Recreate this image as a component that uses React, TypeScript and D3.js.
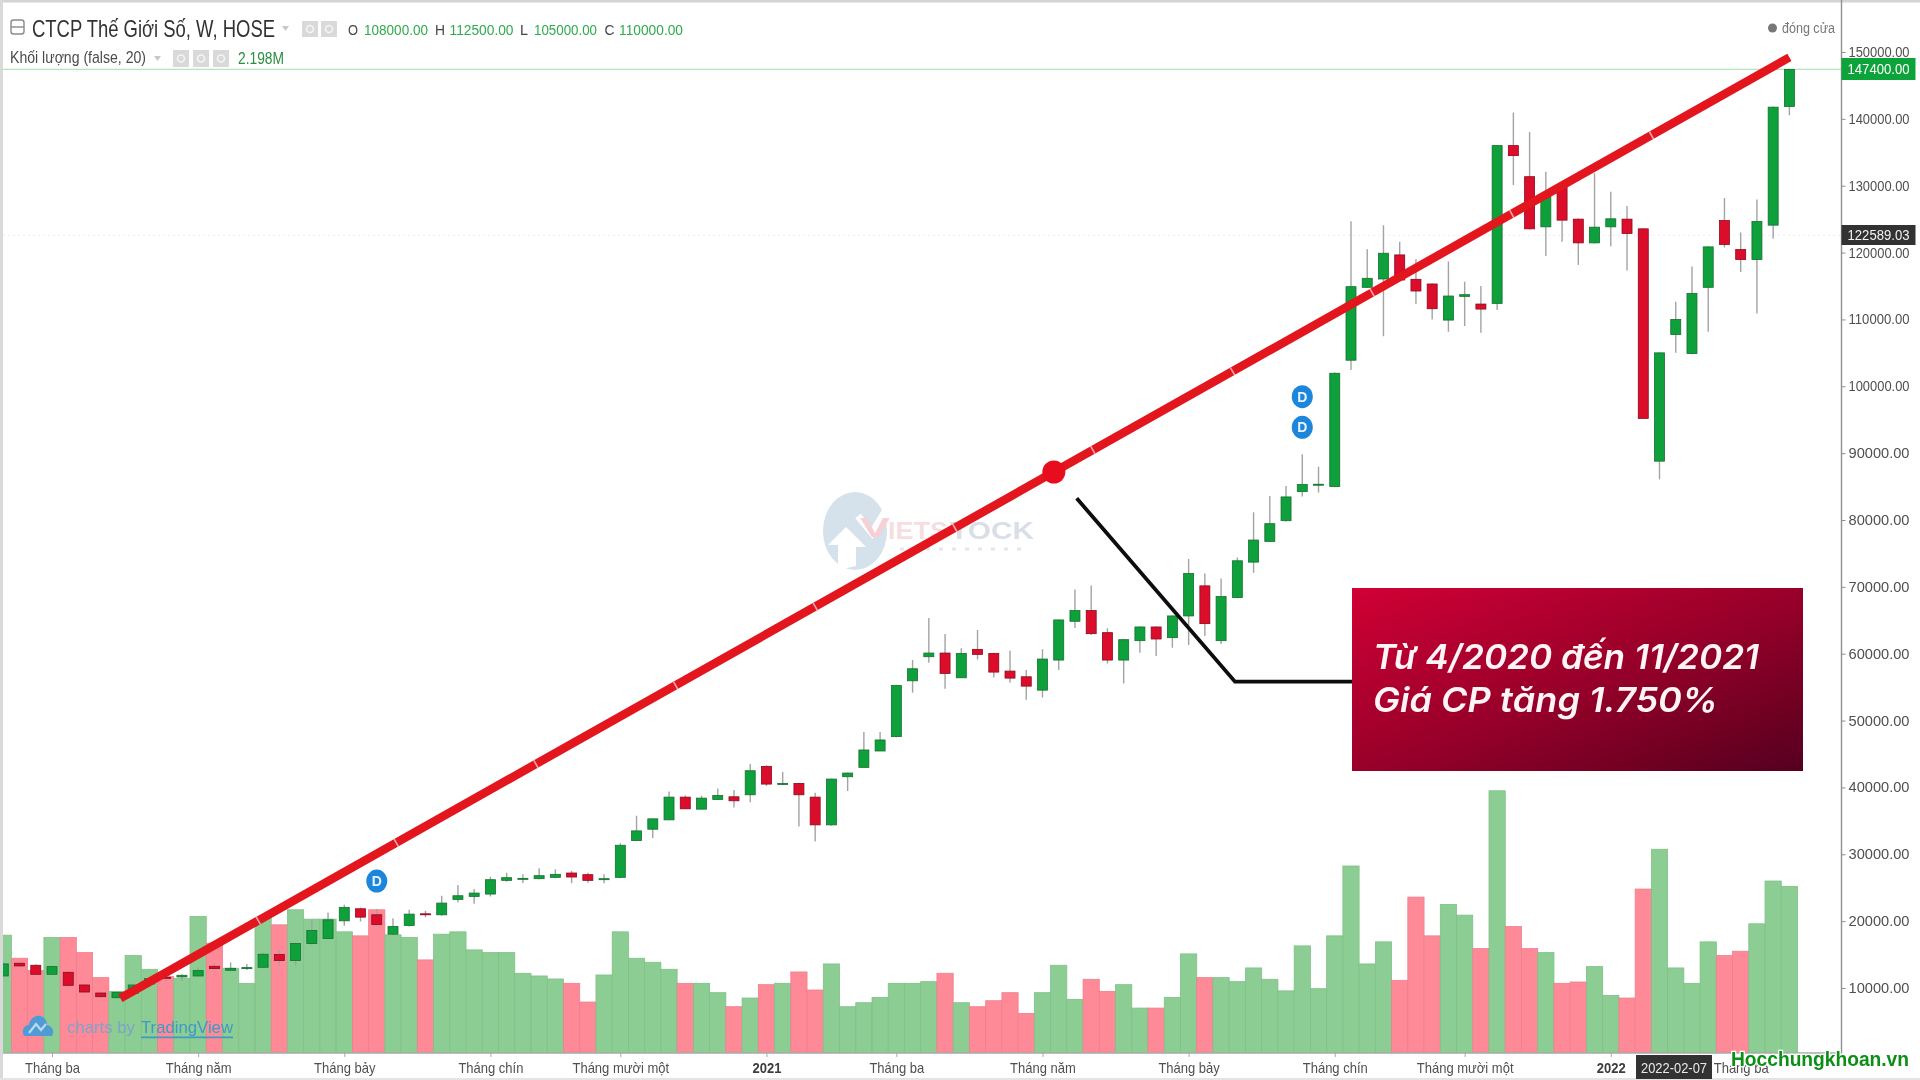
import { useEffect, useRef } from "react";
import * as d3 from "d3";

const WIDTH = 1920;
const HEIGHT = 1080;

// Weekly candles (index = bar number from the left)
const opens = [
  11800, 13700, 13400, 12050, 12350, 10450, 9250, 8550, 9200, 10600,
  11600, 11650, 11800, 13250, 12650, 12950, 13100, 15000, 14100, 16650,
  17400, 20050, 21850, 20950, 18050, 19350, 21100, 20950, 23250, 23700,
  24050, 26100, 26300, 26350, 26550, 27200, 26950, 26250, 26550, 32050,
  33750, 35150, 38550, 36750, 38200, 38600, 38900, 43150, 40500, 40600,
  38550, 34400, 41600, 43000, 45450, 47600, 55950, 59550, 60100, 56400,
  60650, 60050, 57400, 56550, 54550, 59050, 64850, 66450, 63150, 59050,
  61950, 64000, 62400, 65650, 70150, 61950, 68400, 73700, 76800, 79900,
  84250, 85200, 85000, 103900, 114800, 116050, 119650, 116000, 115300, 109900,
  113450, 112300, 112400, 136000, 131350, 123850, 129850, 125000, 121450, 123850,
  125000, 123550, 88800, 107750, 104900, 114800, 124800, 120450, 118950, 124100, 141850,
];
const closes = [
  13600, 13300, 12050, 13200, 10400, 9400, 8700, 9350, 10450, 11400,
  11450, 11900, 12600, 12900, 12950, 13050, 15050, 14100, 16650, 18600,
  20200, 22050, 20600, 19500, 19200, 21050, 21000, 22700, 23800, 24200,
  26200, 26500, 26400, 26800, 27000, 26600, 26100, 26350, 31350, 33500,
  35300, 38550, 36800, 38400, 38800, 38000, 42500, 40500, 40600, 38900,
  34400, 41250, 42150, 45600, 47100, 55250, 57750, 60100, 57050, 60050,
  59900, 57250, 56350, 55150, 59200, 65050, 66450, 63000, 59050, 62100,
  64000, 62200, 65650, 72000, 64500, 68550, 73900, 77000, 79450, 83450,
  85300, 85350, 101950, 114900, 116150, 119900, 115900, 114250, 111600, 113500,
  113700, 111550, 136000, 134500, 123550, 128350, 124850, 121450, 123800, 125050,
  122850, 95200, 105000, 110000, 113900, 120850, 121200, 118950, 124650, 141750, 147400,
];
const highs = [
  13950, 13900, 13550, 13400, 12550, 10600, 9400, 9550, 10700, 11700,
  12100, 12050, 13100, 13700, 13800, 13600, 15300, 15700, 16800, 20200,
  21300, 22450, 22050, 21800, 20450, 21700, 21550, 23800, 25400, 24800,
  26650, 27250, 27000, 27900, 27750, 27500, 27250, 27000, 31650, 35750,
  35300, 39400, 38800, 38750, 39850, 39600, 43500, 43300, 42300, 40700,
  39200, 41350, 42250, 48300, 48300, 55350, 59050, 65350, 62950, 60800,
  63550, 60150, 60450, 57550, 60650, 65150, 69600, 70200, 63800, 62200,
  64100, 64100, 65750, 74150, 72000, 71250, 74400, 81150, 83600, 85100,
  89850, 87950, 102050, 124700, 120500, 124100, 121600, 119000, 115400, 118650,
  115650, 115000, 136100, 140950, 138050, 132100, 129950, 125100, 131850, 129100,
  126950, 123650, 105100, 112650, 117900, 120950, 128150, 123000, 127950, 141850, 147500,
];
const lows = [
  11700, 13100, 11950, 11900, 10200, 9250, 8550, 8400, 8950, 10200,
  11000, 11000, 11700, 12700, 12500, 12700, 12900, 13400, 13400, 16450,
  17300, 19300, 19950, 19350, 17900, 19200, 20600, 20800, 22800, 22600,
  23700, 25900, 25700, 26250, 26400, 25650, 25750, 25650, 26400, 32050,
  32450, 35150, 36800, 36750, 38200, 37000, 37800, 40200, 40400, 34150,
  31900, 34250, 39450, 43000, 45450, 47500, 54150, 58650, 54750, 56400,
  59150, 56450, 55650, 53100, 53450, 57550, 63850, 62800, 58550, 55550,
  60150, 59650, 60900, 61300, 62650, 61450, 68300, 72100, 76700, 79750,
  83500, 84100, 84900, 102450, 114700, 107500, 115800, 112300, 110000, 108150,
  109000, 108000, 111400, 130100, 123450, 119500, 121600, 118150, 121350, 120950,
  117300, 95100, 86100, 105000, 104800, 108150, 120750, 117100, 110900, 122100, 140550,
];
// Volume bars share the price axis on the picture, so they are read in its units
const volumes = [
  17900, 14450, 12600, 17550, 17550, 15300, 11550, 9500, 14850, 12800,
  11700, 11450, 20700, 16700, 12950, 10700, 20450, 19450, 21700, 20300,
  20300, 18400, 17800, 21700, 17950, 17550, 14200, 18050, 18400, 15700,
  15300, 15300, 12200, 11800, 11350, 10700, 7900, 11950, 18400, 14450,
  13850, 12800, 10700, 10700, 9300, 7200, 8500, 10500, 10700, 12400,
  9700, 13600, 7200, 7800, 8600, 10700, 10700, 10950, 12200, 7800,
  7200, 8100, 9300, 6200, 9300, 13400, 8300, 11300, 9500, 10500,
  7000, 7000, 8600, 15100, 11550, 11550, 10950, 13000, 11300, 9570,
  16300, 9900, 17800, 28250, 13600, 16900, 11150, 23600, 17800, 22500,
  20900, 15900, 39500, 19200, 15900, 15300, 10700, 10900, 13200, 8900,
  8500, 24800, 30750, 13000, 10700, 16900, 14850, 15500, 19600, 26000, 25200,
];

const priceTicks = [
  150000, 140000, 130000, 120000, 110000, 100000, 90000, 80000, 70000, 60000,
  50000, 40000, 30000, 20000, 10000,
];
const timeTickBars = [3, 12, 21, 30, 38, 47, 55, 64, 73, 82, 90, 99, 107];
const timeTickLabels = [
  "Tháng ba", "Tháng năm", "Tháng bảy", "Tháng chín", "Tháng mười một", "2021",
  "Tháng ba", "Tháng năm", "Tháng bảy", "Tháng chín", "Tháng mười một", "2022",
  "Tháng ba",
];
const dividendBars = [23, 80, 80];
const dividendPrices = [26000, 98450, 93870];

const trendBars = [7.21, 110];
const trendPrices = [8470, 149200];
const trendMidBar = 64.7;
const trendNotchBars = [15.7, 24.2, 32.8, 41.4, 50, 58.6, 67.1, 75.7, 84.3, 92.9, 101.5];

const LAST_PRICE = 147400;
const CLOSE_PRICE = 122589.03;

const COLOR_UP = "#0ea03a";
const COLOR_UP_EDGE = "#15702f";
const COLOR_DOWN = "#dc0a2a";
const COLOR_DOWN_EDGE = "#8c0a20";
const COLOR_VOL_UP = "#8ccd93";
const COLOR_VOL_UP_EDGE = "#80c088";
const COLOR_VOL_DOWN = "#ff8a97";
const COLOR_VOL_DOWN_EDGE = "#ee7f8c";
const COLOR_LABEL = "#505050";
const COLOR_GREEN_TEXT = "#2fab4c";
const COLOR_TREND = "#e2141f";
const FONT = "'Liberation Sans', Arial, sans-serif";

const PLOT_RIGHT = 1841.5;
const PLOT_BOTTOM = 1053;

export default function App() {
  const svgRef = useRef<SVGSVGElement>(null);

  useEffect(() => {
    const svg = d3.select(svgRef.current);
    svg.selectAll("*").remove();
    svg.attr("viewBox", `0 0 ${WIDTH} ${HEIGHT}`);

    const x = d3.scaleLinear().domain([0, 110]).range([3.3, 1789.4]);
    const y = d3.scaleLinear().domain([10000, 150000]).range([988, 52]);
    const barWidth = x(1) - x(0);
    const isUp = (i: number) => closes[i] >= opens[i];
    const bars = d3.range(volumes.length);

    const defs = svg.append("defs");
    defs
      .append("clipPath")
      .attr("id", "plot-clip")
      .append("rect")
      .attr("x", 3)
      .attr("y", 0)
      .attr("width", PLOT_RIGHT - 3)
      .attr("height", PLOT_BOTTOM);
    defs
      .append("filter")
      .attr("id", "soft")
      .attr("x", 0)
      .attr("y", 0)
      .attr("width", 1)
      .attr("height", 1)
      .append("feGaussianBlur")
      .attr("stdDeviation", 0.55);
    const grad = defs
      .append("linearGradient")
      .attr("id", "callout-fill")
      .attr("x1", 0)
      .attr("y1", 0)
      .attr("x2", 1)
      .attr("y2", 1);
    grad.append("stop").attr("offset", "0%").attr("stop-color", "#d10035");
    grad.append("stop").attr("offset", "55%").attr("stop-color", "#930029");
    grad.append("stop").attr("offset", "100%").attr("stop-color", "#55001f");

    const root = svg.append("g").attr("filter", "url(#soft)");
    root.append("rect").attr("width", WIDTH).attr("height", HEIGHT).attr("fill", "#ffffff");

    // video frame edges
    root.append("rect").attr("width", WIDTH).attr("height", 2.5).attr("fill", "#d4d4d4");
    root.append("rect").attr("width", 3).attr("height", HEIGHT).attr("fill", "#d9d9d9");
    root.append("rect").attr("y", 1078).attr("width", WIDTH).attr("height", 2).attr("fill", "#e4e4e4");

    const text = (
      parent: d3.Selection<any, any, any, any>,
      tx: number,
      ty: number,
      str: string,
      size: number,
      fill: string,
      fitWidth?: number,
    ) => {
      const t = parent
        .append("text")
        .attr("x", tx)
        .attr("y", ty)
        .attr("font-family", FONT)
        .attr("font-size", size)
        .attr("fill", fill)
        .attr("dominant-baseline", "central")
        .text(str);
      if (fitWidth) t.attr("textLength", fitWidth).attr("lengthAdjust", "spacingAndGlyphs");
      return t;
    };

    // Watermark
    const wm = root.append("g");
    wm.append("ellipse")
      .attr("cx", 855)
      .attr("cy", 531)
      .attr("rx", 32)
      .attr("ry", 39)
      .attr("fill", "#d5e1eb");
    wm.append("path")
      .attr("d", "M838 570 L838 545 L828 545 L846 527 L866 547 L856 547 L856 566 Z")
      .attr("fill", "#ffffff");
    wm.append("path")
      .attr("d", "M858 516 L872 533 L886 510")
      .attr("fill", "none")
      .attr("stroke", "#ffffff")
      .attr("stroke-width", 7);
    text(wm, 860, 528, "V", 27, "#f6d0d5", 30).attr("font-weight", 700);
    text(wm, 888, 530, "IETS", 24, "#f6dde1", 60).attr("font-weight", 700);
    text(wm, 950, 530, "TOCK", 24, "#d9dfe6", 84).attr("font-weight", 700);
    wm.append("line")
      .attr("x1", 900)
      .attr("x2", 1030)
      .attr("y1", 549)
      .attr("y2", 549)
      .attr("stroke", "#e4e8ed")
      .attr("stroke-width", 3)
      .attr("stroke-dasharray", "4,9");

    // Last price and pale close line
    root
      .append("line")
      .attr("x1", 3)
      .attr("x2", PLOT_RIGHT)
      .attr("y1", y(LAST_PRICE))
      .attr("y2", y(LAST_PRICE))
      .attr("stroke", "#b5e3ba")
      .attr("stroke-width", 1.2);
    root
      .append("line")
      .attr("x1", 3)
      .attr("x2", PLOT_RIGHT)
      .attr("y1", y(CLOSE_PRICE))
      .attr("y2", y(CLOSE_PRICE))
      .attr("stroke", "#eeeeee")
      .attr("stroke-width", 1)
      .attr("stroke-dasharray", "2,3");

    const plot = root.append("g").attr("clip-path", "url(#plot-clip)");

    // Volume
    plot
      .append("g")
      .selectAll("rect")
      .data(bars)
      .join("rect")
      .attr("x", (i) => x(i) - barWidth / 2)
      .attr("y", (i) => y(volumes[i]))
      .attr("width", barWidth)
      .attr("height", (i) => y(0) - y(volumes[i]))
      .attr("fill", (i) => (isUp(i) ? COLOR_VOL_UP : COLOR_VOL_DOWN))
      .attr("stroke", (i) => (isUp(i) ? COLOR_VOL_UP_EDGE : COLOR_VOL_DOWN_EDGE))
      .attr("stroke-width", 0.8);

    // TradingView credit
    const credit = plot.append("g");
    credit
      .append("path")
      .attr(
        "d",
        "M24 1036 C21 1030 24 1025 29 1025 C30 1018 36 1015 40 1016 C45 1017 47 1021 47 1025 C52 1026 55 1031 52 1036 Z",
      )
      .attr("fill", "#4f9bd6");
    credit
      .append("path")
      .attr("d", "M29 1033 L36 1024 L41 1030 L46 1024")
      .attr("fill", "none")
      .attr("stroke", "#b9d9f0")
      .attr("stroke-width", 2.2);
    text(credit, 67, 1027, "charts by", 17, "#7da3cc", 68);
    text(credit, 141, 1027, "TradingView", 17, "#3e9ac6", 92).attr("text-decoration", "underline");

    // Candles
    const candles = plot.append("g");
    candles
      .selectAll("line")
      .data(bars)
      .join("line")
      .attr("x1", (i) => x(i))
      .attr("x2", (i) => x(i))
      .attr("y1", (i) => y(highs[i]))
      .attr("y2", (i) => y(lows[i]))
      .attr("stroke", "#a3a3a3")
      .attr("stroke-width", 1.4);
    candles
      .selectAll("rect")
      .data(bars)
      .join("rect")
      .attr("x", (i) => x(i) - 5)
      .attr("y", (i) => y(Math.max(opens[i], closes[i])))
      .attr("width", 10)
      .attr("height", (i) => Math.max(1, Math.abs(y(opens[i]) - y(closes[i]))))
      .attr("fill", (i) => (isUp(i) ? COLOR_UP : COLOR_DOWN))
      .attr("stroke", (i) => (isUp(i) ? COLOR_UP_EDGE : COLOR_DOWN_EDGE))
      .attr("stroke-width", 0.8);

    // Dividend markers
    const divs = root
      .append("g")
      .selectAll("g")
      .data(dividendBars.map((bar, i) => ({ bar, price: dividendPrices[i] })))
      .join("g")
      .attr("transform", (d) => `translate(${x(d.bar)},${y(d.price)})`);
    divs.append("ellipse").attr("rx", 10.5).attr("ry", 11.5).attr("fill", "#1d85dc");
    divs
      .append("text")
      .attr("text-anchor", "middle")
      .attr("dominant-baseline", "central")
      .attr("font-family", FONT)
      .attr("font-size", 14)
      .attr("font-weight", 700)
      .attr("fill", "#e8f3fc")
      .text("D");

    // Price axis
    root
      .append("line")
      .attr("x1", PLOT_RIGHT)
      .attr("x2", PLOT_RIGHT)
      .attr("y1", 0)
      .attr("y2", PLOT_BOTTOM)
      .attr("stroke", "#8f8f8f")
      .attr("stroke-width", 1.4);
    const priceAxis = root
      .append("g")
      .attr("transform", `translate(${PLOT_RIGHT},0)`)
      .call(
        d3
          .axisRight(y)
          .tickValues(priceTicks)
          .tickSize(4)
          .tickPadding(3)
          .tickFormat((v) => (v as number).toFixed(2)),
      );
    priceAxis.select(".domain").remove();
    priceAxis.selectAll(".tick line").attr("stroke", "#8f8f8f");
    priceAxis
      .selectAll(".tick text")
      .attr("font-family", FONT)
      .attr("font-size", 14)
      .attr("fill", COLOR_LABEL)
      .attr("textLength", 61)
      .attr("lengthAdjust", "spacingAndGlyphs");

    // Time axis
    root
      .append("line")
      .attr("x1", 3)
      .attr("x2", PLOT_RIGHT)
      .attr("y1", PLOT_BOTTOM)
      .attr("y2", PLOT_BOTTOM)
      .attr("stroke", "#a8a8a8")
      .attr("stroke-width", 1.4);
    const timeAxis = root
      .append("g")
      .attr("transform", `translate(0,${PLOT_BOTTOM})`)
      .call(
        d3
          .axisBottom(x)
          .tickValues(timeTickBars)
          .tickSize(4)
          .tickPadding(6)
          .tickFormat((_, i) => timeTickLabels[i]),
      );
    timeAxis.select(".domain").remove();
    timeAxis.selectAll(".tick line").attr("stroke", "#a8a8a8");
    timeAxis
      .selectAll<SVGTextElement, number>(".tick text")
      .attr("font-family", FONT)
      .attr("font-size", 13)
      .attr("fill", (_, i) => (/^\d/.test(timeTickLabels[i]) ? "#3c3c3c" : COLOR_LABEL))
      .attr("font-weight", (_, i) => (/^\d/.test(timeTickLabels[i]) ? 700 : 400))
      .each(function () {
        // keep the 13px width but the taller letters of the picture
        const natural = this.getComputedTextLength();
        d3.select(this)
          .attr("font-size", 14.5)
          .attr("textLength", natural)
          .attr("lengthAdjust", "spacingAndGlyphs");
      });

    // Price tags
    root
      .append("rect")
      .attr("x", PLOT_RIGHT)
      .attr("y", 58)
      .attr("width", 74)
      .attr("height", 22)
      .attr("fill", "#0fa33a");
    text(root, PLOT_RIGHT + 6, 69, LAST_PRICE.toFixed(2), 14, "#ffffff", 62);
    root
      .append("rect")
      .attr("x", PLOT_RIGHT)
      .attr("y", 225)
      .attr("width", 74)
      .attr("height", 20)
      .attr("fill", "#333333");
    text(root, PLOT_RIGHT + 6, 235, CLOSE_PRICE.toFixed(2), 14, "#f2f2f2", 62);

    // Crosshair date tag
    root
      .append("rect")
      .attr("x", 1636)
      .attr("y", 1055)
      .attr("width", 76)
      .attr("height", 24)
      .attr("fill", "#333333");
    text(root, 1674, 1068, "2022-02-07", 14, "#e8e8e8", 66).attr("text-anchor", "middle");

    // Header
    root
      .append("rect")
      .attr("x", 11)
      .attr("y", 20)
      .attr("width", 13)
      .attr("height", 14)
      .attr("rx", 2.5)
      .attr("fill", "none")
      .attr("stroke", "#8a8a8a")
      .attr("stroke-width", 1.4);
    root
      .append("line")
      .attr("x1", 11)
      .attr("x2", 24)
      .attr("y1", 27)
      .attr("y2", 27)
      .attr("stroke", "#8a8a8a")
      .attr("stroke-width", 1.4);
    text(root, 32, 28.5, "CTCP Thế Giới Số, W, HOSE", 24, "#333333", 243);
    root.append("path").attr("d", "M282 26 L289 26 L285.5 31 Z").attr("fill", "#c8c8c8");
    const headerIcons = (boxes: number[], boxY: number, boxH: number) => {
      boxes.forEach((bx) => {
        root
          .append("rect")
          .attr("x", bx)
          .attr("y", boxY)
          .attr("width", 16)
          .attr("height", boxH)
          .attr("fill", "#d9d9d9");
        root
          .append("circle")
          .attr("cx", bx + 8)
          .attr("cy", boxY + boxH / 2)
          .attr("r", 3.5)
          .attr("fill", "none")
          .attr("stroke", "#f5f5f5")
          .attr("stroke-width", 1.6);
      });
    };
    headerIcons([302, 321], 21, 16);
    text(root, 348, 30, "O", 14.5, "#444444", 10);
    text(root, 364, 30, "108000.00", 14.5, COLOR_GREEN_TEXT, 64);
    text(root, 435, 30, "H", 14.5, "#444444", 10);
    text(root, 449.5, 30, "112500.00", 14.5, COLOR_GREEN_TEXT, 64);
    text(root, 520, 30, "L", 14.5, "#444444", 8);
    text(root, 534, 30, "105000.00", 14.5, COLOR_GREEN_TEXT, 63);
    text(root, 604.5, 30, "C", 14.5, "#444444", 10);
    text(root, 619, 30, "110000.00", 14.5, COLOR_GREEN_TEXT, 64);

    text(root, 10, 57.5, "Khối lượng (false, 20)", 17, "#4c4c4c", 136);
    root.append("path").attr("d", "M154 56 L161 56 L157.5 61 Z").attr("fill", "#c8c8c8");
    headerIcons([173, 193, 213], 50, 17);
    text(root, 238, 58, "2.198M", 16, "#2a8f42", 46);

    root.append("circle").attr("cx", 1772.5).attr("cy", 28).attr("r", 4.5).attr("fill", "#777777");
    text(root, 1782, 28, "đóng cửa", 14, "#777777", 53);

    // Trend line over everything on the chart
    const trend = d3
      .line<number>()
      .x((i) => x(trendBars[i]))
      .y((i) => y(trendPrices[i]));
    const trendAt = d3.scaleLinear().domain(trendBars).range(trendPrices);
    const dx = x(trendBars[1]) - x(trendBars[0]);
    const dy = y(trendPrices[1]) - y(trendPrices[0]);
    const len = Math.hypot(dx, dy);
    const nx = -dy / len;
    const ny = dx / len;

    root
      .append("path")
      .attr("d", trend([0, 1]))
      .attr("fill", "none")
      .attr("stroke", COLOR_TREND)
      .attr("stroke-width", 8.5);
    root
      .append("g")
      .selectAll("line")
      .data(trendNotchBars)
      .join("line")
      .attr("x1", (b) => x(b) - nx * 4.5)
      .attr("y1", (b) => y(trendAt(b)) - ny * 4.5)
      .attr("x2", (b) => x(b) + nx * 4.5)
      .attr("y2", (b) => y(trendAt(b)) + ny * 4.5)
      .attr("stroke", "#f6a9ad")
      .attr("stroke-width", 1.6);
    root
      .append("circle")
      .attr("cx", x(trendMidBar))
      .attr("cy", y(trendAt(trendMidBar)))
      .attr("r", 11.5)
      .attr("fill", "#e80f1e");

    // Callout
    root
      .append("path")
      .attr("d", "M1076.7 498.3 L1235 681.7 L1352 681.7")
      .attr("fill", "none")
      .attr("stroke", "#0c0c0c")
      .attr("stroke-width", 3.8);
    root
      .append("rect")
      .attr("x", 1352)
      .attr("y", 588)
      .attr("width", 451)
      .attr("height", 183)
      .attr("fill", "url(#callout-fill)");
    const callout = (cy: number, str: string, w: number) =>
      root
        .append("text")
        .attr("x", 1373)
        .attr("y", cy)
        .attr("font-family", "Inter, 'Open Sans', sans-serif")
        .attr("font-size", 34)
        .attr("font-weight", 600)
        .attr("font-style", "italic")
        .attr("fill", "#fff4f6")
        .attr("textLength", w)
        .attr("lengthAdjust", "spacingAndGlyphs")
        .text(str);
    callout(669, "Từ 4/2020 đến 11/2021", 386);
    callout(712, "Giá CP tăng 1.750%", 345);

    // Site stamp
    root
      .append("text")
      .attr("x", 1731)
      .attr("y", 1066)
      .attr("font-family", FONT)
      .attr("font-size", 20)
      .attr("font-weight", 700)
      .attr("fill", "#0b8f17")
      .attr("stroke", "#ffffff")
      .attr("stroke-width", 2.5)
      .attr("paint-order", "stroke")
      .attr("textLength", 178)
      .attr("lengthAdjust", "spacingAndGlyphs")
      .text("Hocchungkhoan.vn");
  }, []);

  return (
    <svg
      ref={svgRef}
      width={WIDTH}
      height={HEIGHT}
      style={{ position: "fixed", left: 0, top: 0, display: "block" }}
    />
  );
}
